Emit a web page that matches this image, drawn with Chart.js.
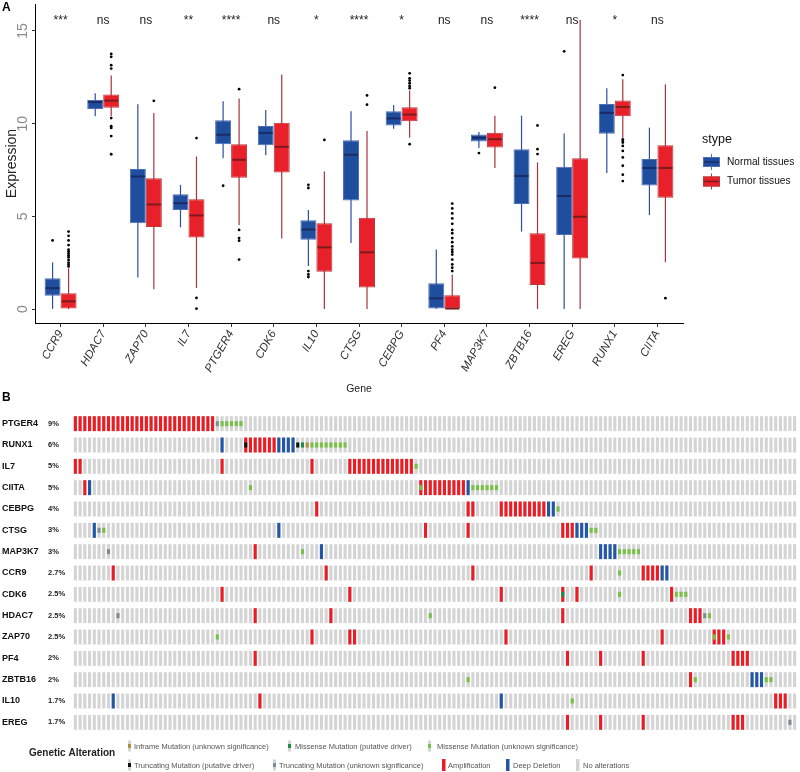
<!DOCTYPE html>
<html><head><meta charset="utf-8">
<script src="https://cdn.jsdelivr.net/npm/chart.js@4"></script>
<style>
body{margin:0;background:#fff;width:800px;height:772px;overflow:hidden;position:relative;font-family:"Liberation Sans",Arial,sans-serif}
#a{position:absolute;left:0;top:0}
#b{position:absolute;left:0;top:398px}
.tag{position:absolute;font-weight:bold;font-size:12px;color:#000}
</style></head><body>
<canvas id="a" width="800" height="398"></canvas>
<canvas id="b" width="800" height="374"></canvas>
<div class="tag" style="left:2px;top:0px">A</div>
<div class="tag" style="left:2px;top:390px">B</div>
<script>
Chart.defaults.font.family='"Liberation Sans", Arial, sans-serif';

// ---- panel A : expression boxplots ----
const genes=['CCR9','HDAC7','ZAP70','IL7','PTGER4','CDK6','IL10','CTSG','CEBPG','PF4','MAP3K7','ZBTB16','EREG','RUNX1','CIITA'];
const sig=['***','ns','ns','**','****','ns','*','****','*','ns','ns','****','ns','*','ns'];
const yTicks=[0,5,10,15];

// Normal tissues
const nLo =[0.01,10.4,1.7,4.41,8.13,8.3,2.32,3.56,9.72,0,8.68,4.18,0,7.34,5.07];
const nQ1 =[0.72,10.79,4.63,5.34,8.89,8.84,3.74,5.85,9.9,0,9.03,5.67,4.0,9.46,6.67];
const nMed=[1.13,11.16,7.15,5.71,9.4,9.5,4.29,8.32,10.28,0.58,9.24,7.18,6.1,10.58,7.61];
const nQ3 =[1.66,11.28,7.56,6.19,10.18,9.87,4.79,9.1,10.67,1.39,9.42,8.62,7.68,11.06,8.09];
const nHi =[2.52,11.64,11.05,6.7,11.2,10.74,5.34,10.67,11.0,3.21,9.55,10.43,9.47,11.91,9.78];
const nOut=[[3.7],[],[],[],[6.65],[],[6.7,6.53,2.05,1.87,1.73],[],[],[],[8.41],[],[13.9],[],[]];

// Tumor tissues
const tLo =[0,10.4,1.07,1.13,4.54,3.8,0,0,9.24,0,7.61,0,0,9.24,2.53];
const tQ1 =[0,10.86,4.43,3.86,7.08,7.36,2.01,1.16,10.13,0,8.71,1.3,2.73,10.4,6.01];
const tMed=[0.42,11.24,5.64,5.05,8.05,8.75,3.33,3.06,10.49,0.03,9.16,2.49,4.98,10.9,7.61];
const tQ3 =[0.86,11.57,7.06,5.92,8.89,10.05,4.63,4.93,10.88,0.75,9.51,4.09,8.13,11.25,8.84];
const tHi =[2.2,12.6,10.57,8.23,11.36,12.65,7.42,9.6,11.78,1.87,10.43,7.91,15.59,12.39,12.12];
const tOut=[
  [4.18,3.95,3.7,3.45,3.2,3.1,3.0,2.9,2.8,2.65,2.5,2.4,2.3],
  [13.76,13.6,13.15,12.97,10.3,9.86,9.77,9.33,8.35],
  [11.23],
  [9.22,0.6,0.02],
  [11.86,4.27,3.83,3.69,2.67],
  [],
  [9.12],
  [11.52,11.02],
  [12.71,12.44,12.32,12.18,12.03,11.91,8.89],
  [5.69,5.43,5.16,4.89,4.6,4.27,4.09,3.83,3.61,3.38,3.21,3.08,2.94,2.67,2.41,2.23,2.05],
  [11.94],
  [9.9,8.62,8.36],
  [],
  [12.62,9.15,9.07,8.98,8.8,8.53,8.18,7.73,7.25,6.9],
  [0.59]
];

const BLUE='#1f4e9f', BLUE_EDGE='#4d6db5', BLUE_WH='#2c4f9f', BLUE_MED='#1b2b63';
const RED='#e8202a', RED_EDGE='#b9373d', RED_WH='#a8343a', RED_MED='#7d1a1e';
const dodge=0.1875;
const pts=(out,off)=>out.flatMap((vs,i)=>vs.map(v=>({x:i+off,y:v})));

const boxExtras={
  id:'boxExtras',
  beforeDatasetsDraw(ch){
    const {ctx,scales:{y}}=ch;
    [[0,nLo,nHi,BLUE_WH],[1,tLo,tHi,RED_WH]].forEach(([d,lo,hi,col])=>{
      ctx.save();ctx.strokeStyle=col;ctx.lineWidth=1.2;
      ch.getDatasetMeta(d).data.forEach((b,i)=>{
        ctx.beginPath();
        ctx.moveTo(b.x,y.getPixelForValue(lo[i]));
        ctx.lineTo(b.x,y.getPixelForValue(hi[i]));
        ctx.stroke();
      });
      ctx.restore();
    });
  },
  afterDatasetsDraw(ch){
    const {ctx,scales:{x,y}}=ch;
    [[0,nMed,BLUE_MED],[1,tMed,RED_MED]].forEach(([d,med,col])=>{
      ctx.save();ctx.strokeStyle=col;ctx.lineWidth=2;
      ch.getDatasetMeta(d).data.forEach((b,i)=>{
        const py=y.getPixelForValue(med[i]);
        ctx.beginPath();ctx.moveTo(b.x-b.width/2+1,py);ctx.lineTo(b.x+b.width/2-1,py);ctx.stroke();
      });
      ctx.restore();
    });
    // significance
    ctx.save();ctx.fillStyle='#222';ctx.font='12px "Liberation Sans", Arial';ctx.textAlign='center';ctx.textBaseline='alphabetic';
    sig.forEach((s,i)=>ctx.fillText(s,x.getPixelForValue(i),y.getPixelForValue(15.37)));
    ctx.restore();
  },
  afterDraw(ch){
    const {ctx,scales:{y}}=ch;
    // y tick labels (rotated, centred like ggplot)
    ctx.save();ctx.fillStyle='#8a8a8a';ctx.font='14px "Liberation Sans", Arial';ctx.textAlign='center';ctx.textBaseline='middle';
    yTicks.forEach(v=>{ctx.save();ctx.translate(23,y.getPixelForValue(v));ctx.rotate(-Math.PI/2);ctx.fillText(String(v),0,0);ctx.restore();});
    ctx.restore();
    // legend
    const lx=703;
    ctx.save();
    ctx.fillStyle='#111';ctx.font='12.5px "Liberation Sans", Arial';ctx.textBaseline='middle';
    ctx.fillText('stype',702,140);
    [[BLUE,BLUE_EDGE,BLUE_MED,'Normal tissues',162],[RED,RED_EDGE,RED_MED,'Tumor tissues',181.5]].forEach(([f,e,m,t,cy])=>{
      ctx.strokeStyle=e;ctx.lineWidth=1;
      ctx.beginPath();ctx.moveTo(lx+8.5,cy-8);ctx.lineTo(lx+8.5,cy+8);ctx.stroke();
      ctx.fillStyle=f;ctx.fillRect(lx,cy-5,17,10);ctx.strokeRect(lx+0.5,cy-4.5,16,9);
      ctx.strokeStyle=m;ctx.lineWidth=1.5;ctx.beginPath();ctx.moveTo(lx+1,cy);ctx.lineTo(lx+16,cy);ctx.stroke();
      ctx.fillStyle='#111';ctx.font='10.2px "Liberation Sans", Arial';ctx.fillText(t,727,cy);
    });
    ctx.restore();
  }
};

new Chart(document.getElementById('a'),{
  type:'bar',
  data:{datasets:[
    {label:'Normal tissues',data:genes.map((g,i)=>({x:i,y:[nQ1[i],nQ3[i]]})),backgroundColor:BLUE,borderColor:BLUE_EDGE,borderWidth:1,borderSkipped:false,categoryPercentage:0.75,barPercentage:1},
    {label:'Tumor tissues',data:genes.map((g,i)=>({x:i,y:[tQ1[i],tQ3[i]]})),backgroundColor:RED,borderColor:RED_EDGE,borderWidth:1,borderSkipped:false,categoryPercentage:0.75,barPercentage:1},
    {type:'scatter',label:'outN',data:pts(nOut,-dodge),pointRadius:1.4,backgroundColor:'#000',borderWidth:0},
    {type:'scatter',label:'outT',data:pts(tOut,dodge),pointRadius:1.4,backgroundColor:'#000',borderWidth:0}
  ]},
  options:{
    responsive:false,animation:false,
    layout:{padding:{left:0,right:117,top:0,bottom:0}},
    plugins:{legend:{display:false},tooltip:{enabled:false}},
    scales:{
      x:{type:'linear',offset:false,min:-0.6,max:14.6,
        afterBuildTicks:s=>{s.ticks=genes.map((g,i)=>({value:i}));},
        ticks:{callback:v=>genes[v],autoSkip:false,minRotation:60,maxRotation:60,color:'#333',padding:1,font:{size:11.5,style:'italic'}},
        grid:{drawOnChartArea:false,tickLength:4,color:'#333',offset:false},
        border:{color:'#000',width:1},
        title:{display:true,text:'Gene',color:'#222',font:{size:10.5},padding:{top:0,bottom:3}},
        afterFit:s=>{s.height=75;s.paddingLeft=0;s.paddingRight=0;}},
      y:{min:-0.75,max:16.45,
        afterBuildTicks:s=>{s.ticks=yTicks.map(v=>({value:v}));},
        ticks:{display:false},
        grid:{drawOnChartArea:false,tickLength:3,color:'#333'},
        border:{color:'#000',width:1},
        title:{display:true,text:'Expression',color:'#222',font:{size:14},padding:{top:4,bottom:0}},
        afterFit:s=>{s.width=35;s.paddingTop=0;s.paddingBottom=0;}}
    }
  },
  plugins:[boxExtras]
});

// ---- panel B : oncoprint ----
const oncoGenes=['PTGER4','RUNX1','IL7','CIITA','CEBPG','CTSG','MAP3K7','CCR9','CDK6','HDAC7','ZAP70','PF4','ZBTB16','IL10','EREG'];
const oncoPct=['9%','6%','5%','5%','4%','3%','3%','2.7%','2.5%','2.5%','2.5%','2%','2%','1.7%','1.7%'];
const nSamples=153;
// sample columns altered, one list per gene (same order as oncoGenes)
const ampCols=[
  [0,1,2,3,4,5,6,7,8,9,10,11,12,13,14,15,16,17,18,19,20,21,22,23,24,25,26,27,28,29],
  [36,37,38,39,40,41,42],
  [0,1,31,50,58,59,60,61,62,63,64,65,66,67,68,69,70,71],
  [2,73,74,75,76,77,78,79,80,81,82],
  [51,83,84,90,91,92,93,94,95,96,97,98,99],
  [74,83,103,104,105],
  [38],
  [8,53,84,109,120,121,122,123],
  [31,58,90,103,106,126],
  [38,54,103,130,131,132],
  [50,58,59,91,124,135,136,137],
  [38,104,111,120,139,140,141,142],
  [130],
  [39,148,149,150],
  [104,111,120,139,140,141]
];
const delCols=[[],[31,43,44,45,46],[],[3,83],[100,101],[4,43,106,107,108],[52,111,112,113,114],[124,125],[],[],[],[],[143,144,145],[8,90],[]];
const missUnkCols=[[31,32,33,34,35],[50,51,52,53,54,55,56,57],[72],[37,73,84,85,86,87,88,89],[102],[6,109,110],[48,115,116,117,118,119],[115],[115,127,128,129],[75,134],[30,135,138],[],[83,131,146,147],[105],[]];
const missDrvCols=[[],[48],[],[],[],[],[],[],[103],[],[],[],[],[],[]];
const inframeCols=[[],[49],[],[],[],[],[],[],[],[],[],[],[],[],[]];
const truncDrvCols=[[],[36,47],[],[],[],[],[],[],[],[],[],[],[],[],[]];
const truncUnkCols=[[30],[],[],[],[],[5],[7],[],[],[9,133],[],[],[],[],[151]];

const C_GREY='#d4d4d4',C_AMP='#ec1c24',C_DEL='#2157a6',C_MISS='#78c145',C_MISSD='#1c8c4a',C_INF='#b38b3c',C_TRD='#111111',C_TRU='#7e8c9a';
const CELL=0.35, MARK=0.12;
function cells(list,h){const out=[];list.forEach((cs,r)=>cs.forEach(c=>out.push({x:c,y:[r-h,r+h]})));return out;}
const allCols=oncoGenes.map(()=>Array.from({length:nSamples},(_,c)=>c));
const onco=(data,color)=>({data,backgroundColor:color,borderWidth:0,grouped:false,categoryPercentage:1,barPercentage:0.66});

const oncoLegend={
  id:'oncoLegend',
  afterDraw(ch){
    const ctx=ch.ctx, off=398;
    ctx.save();
    ctx.fillStyle='#222';ctx.font='bold 10px "Liberation Sans", Arial';ctx.textBaseline='middle';
    ctx.fillText('Genetic Alteration',29,753-off);
    const items=[
      [128,746,C_INF,true,'Inframe Mutation (unknown significance)',134],
      [288,746,C_MISSD,true,'Missense Mutation (putative driver)',295],
      [428,746,C_MISS,true,'Missense Mutation (unknown significance)',437],
      [128,765,C_TRD,true,'Truncating Mutation (putative driver)',134],
      [273,765,C_TRU,true,'Truncating Mutation (unknown significance)',279],
      [442,765,C_AMP,false,'Amplification',448],
      [506,765,C_DEL,false,'Deep Deletion',513],
      [576,765,C_GREY,false,'No alterations',583]
    ];
    ctx.font='7.5px "Liberation Sans", Arial';
    items.forEach(([kx,ky,col,mark,txt,tx])=>{
      const y=ky-off;
      if(mark){ctx.fillStyle=C_GREY;ctx.fillRect(kx,y-5.5,3,11);ctx.fillStyle=col;ctx.fillRect(kx,y-2,3,4);}
      else{ctx.fillStyle=col;ctx.fillRect(kx,y-6,3.5,12);}
      ctx.fillStyle='#555';ctx.fillText(txt,tx,y+0.5);
    });
    ctx.restore();
  }
};

new Chart(document.getElementById('b'),{
  type:'bar',
  data:{datasets:[
    onco(cells(truncDrvCols,MARK),C_TRD),
    onco(cells(truncUnkCols,MARK),C_TRU),
    onco(cells(missDrvCols,MARK),C_MISSD),
    onco(cells(missUnkCols,MARK),C_MISS),
    onco(cells(inframeCols,MARK),C_INF),
    onco(cells(ampCols,CELL),C_AMP),
    onco(cells(delCols,CELL),C_DEL),
    onco(cells(allCols,CELL),C_GREY)
  ]},
  options:{
    responsive:false,animation:false,
    layout:{padding:{left:2,right:3,top:15,bottom:39}},
    plugins:{legend:{display:false},tooltip:{enabled:false}},
    scales:{
      x:{type:'linear',display:false,offset:false,min:-0.5,max:nSamples-0.5},
      y:{type:'linear',position:'left',reverse:true,min:-0.5,max:14.5,weight:2,
        afterBuildTicks:s=>{s.ticks=oncoGenes.map((g,i)=>({value:i}));},
        ticks:{callback:v=>oncoGenes[v],autoSkip:false,crossAlign:'far',padding:0,color:'#111',font:{size:9,weight:'bold'}},
        grid:{display:false},border:{display:false},
        afterFit:s=>{s.width=46;s.paddingTop=0;s.paddingBottom=0;}},
      yp:{type:'linear',position:'left',reverse:true,min:-0.5,max:14.5,weight:1,
        afterBuildTicks:s=>{s.ticks=oncoPct.map((p,i)=>({value:i}));},
        ticks:{callback:v=>oncoPct[v],autoSkip:false,crossAlign:'far',padding:0,color:'#222',font:{size:7.5,weight:'bold'}},
        grid:{display:false},border:{display:false},
        afterFit:s=>{s.width=25;s.paddingTop=0;s.paddingBottom=0;}}
    }
  },
  plugins:[oncoLegend]
});
</script>
</body></html>
